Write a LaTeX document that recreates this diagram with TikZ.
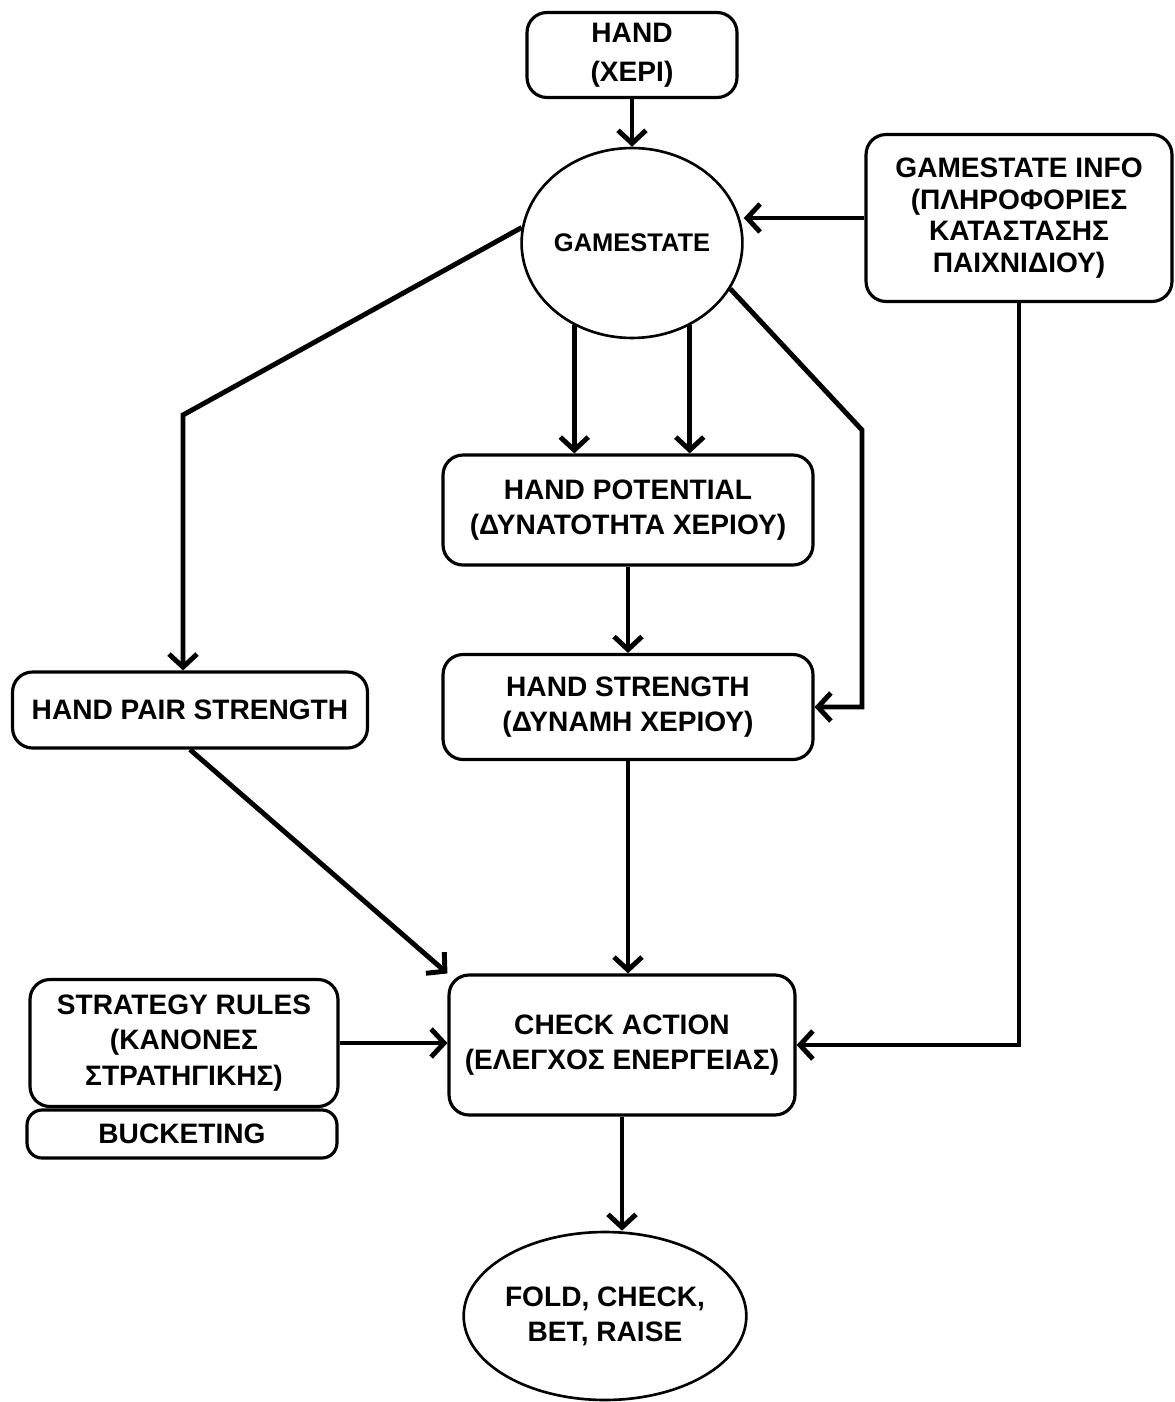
\documentclass[tikz,border=0pt]{standalone}
\usepackage{fontspec}
\setmainfont{Liberation Sans}
\usetikzlibrary{shapes.geometric,arrows.meta}

\begin{document}
\begin{tikzpicture}[x=0.02cm,y=-0.02cm,
        box/.style={draw,line width=1.8pt,rounded corners=0.4cm,align=center,inner sep=0pt,
            font=\fontsize{16}{20}\selectfont\bfseries},
        oval/.style={draw,ellipse,line width=1.5pt,align=center,inner sep=0pt,
            font=\fontsize{16}{20}\selectfont\bfseries},
        arr/.style={line width=2.8pt,-{Straight Barb[length=2.6mm,width=5.6mm]}}]
        \useasboundingbox (0,0) rectangle (1175,1402);
        % boxes
        \node[box,minimum width=4.2cm,minimum height=1.7cm,font=\fontsize{16}{22}\selectfont\bfseries] (hand) at (632,55) {HAND\\(ΧΕΡΙ)};
        \node[oval,minimum width=4.04cm,minimum height=3.8cm,font=\fontsize{14.5}{18}\selectfont\bfseries] (gamestate) at (632,243) {GAMESTATE};
        \node[box,minimum width=6.12cm,minimum height=3.34cm,font=\fontsize{16}{18}\selectfont\bfseries] (info) at (1019,218) {GAMESTATE INFO\\(ΠΛΗΡΟΦΟΡΙΕΣ\\ΚΑΤΑΣΤΑΣΗΣ\\ΠΑΙΧΝΙΔΙΟΥ)};
        \node[box,minimum width=7.4cm,minimum height=2.2cm] (potential) at (628,510) {HAND POTENTIAL\\(ΔΥΝΑΤΟΤΗΤΑ ΧΕΡΙΟΥ)};
        \node[box,minimum width=7.4cm,minimum height=2.1cm] (strength) at (628,707) {HAND STRENGTH\\(ΔΥΝΑΜΗ ΧΕΡΙΟΥ)};
        \node[box,minimum width=7.1cm,minimum height=1.52cm] (pair) at (190,710) {HAND PAIR STRENGTH};
        \node[box,minimum width=6.92cm,minimum height=2.8cm] (check) at (622,1045) {CHECK ACTION\\(ΕΛΕΓΧΟΣ ΕΝΕΡΓΕΙΑΣ)};
        \node[box,minimum width=6.16cm,minimum height=2.54cm] (rules) at (184,1043) {STRATEGY RULES\\(ΚΑΝΟΝΕΣ\\ΣΤΡΑΤΗΓΙΚΗΣ)};
        \node[box,minimum width=6.2cm,minimum height=0.96cm,rounded corners=0.3cm] (bucket) at (182,1134) {BUCKETING};
        \node[oval,minimum width=5.5cm,minimum height=3.36cm] (result) at (605,1316) {FOLD, CHECK,\\BET, RAISE};
        % bends
        \coordinate (lbend) at (183,415);
        \coordinate (rbend) at (862,430);
        % arrows
        \draw[arr] (hand.south) -- (gamestate.north);
        \draw[arr] (info.west) -- (info.west -| gamestate.east);
        \draw[arr] (gamestate.-125) -- (gamestate.-125 |- potential.north);
        \draw[arr] (gamestate.-55) -- (gamestate.-55 |- potential.north);
        \draw[arr] (potential.south) -- (strength.north);
        \draw[arr] (gamestate.172) -- (lbend) -- (lbend |- pair.north);
        \draw[arr] (gamestate.-25) -- (rbend) -- (rbend |- strength.east) -- (strength.east);
        \draw[arr] (info.south) -- (info.south |- check.east) -- (check.east);
        \draw[arr] (pair.south) -- (check.north west);
        \draw[arr] (strength.south) -- (strength.south |- check.north);
        \draw[arr] (rules.east) -- (rules.east -| check.west);
        \draw[arr] (check.south) -- (check.south |- result.north);
\end{tikzpicture}
\end{document}
